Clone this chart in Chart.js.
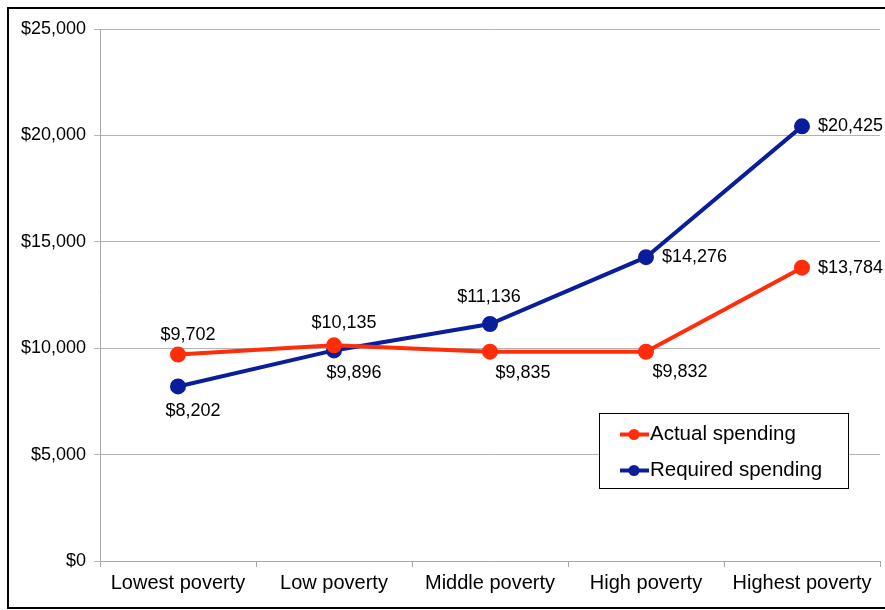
<!DOCTYPE html>
<html>
<head>
<meta charset="utf-8">
<script src="https://cdn.jsdelivr.net/npm/chart.js@4/dist/chart.umd.min.js"></script>
<style>
  html, body { margin: 0; padding: 0; background: #fff; }
  #wrap { width: 885px; height: 610px; }
</style>
</head>
<body>
<div id="wrap"><canvas id="chart" width="885" height="610"></canvas></div>
<script>
const categories = ['Lowest poverty', 'Low poverty', 'Middle poverty', 'High poverty', 'Highest poverty'];
const actualSpending = [9702, 10135, 9835, 9832, 13784];
const requiredSpending = [8202, 9896, 11136, 14276, 20425];
const yTicks = [0, 5000, 10000, 15000, 20000, 25000];

const RED = '#ff2d0a';
const BLUE = '#0a1e9c';
const FONT = '"Liberation Sans", Arial, sans-serif';

// where each value label sits relative to its point (dx, dy, align)
const actualLabelPos = [[10, -20, 'center'], [10, -22, 'center'], [33, 21, 'center'], [34, 20, 'center'], [16, 0, 'left']];
const requiredLabelPos = [[15, 25, 'center'], [20, 23, 'center'], [-1, -27, 'center'], [16, 0, 'left'], [16, 0, 'left']];

const fmt = v => '$' + v.toLocaleString('en-US');

// frame, value labels and legend box
const extras = {
  id: 'extras',
  afterDatasetsDraw(chart) {
    const ctx = chart.ctx;
    ctx.save();
    ctx.font = '18px ' + FONT;
    ctx.fillStyle = '#000';
    ctx.textBaseline = 'middle';
    const pos = [actualLabelPos, requiredLabelPos];
    chart.data.datasets.forEach((ds, i) => {
      chart.getDatasetMeta(i).data.forEach((pt, j) => {
        const [dx, dy, align] = pos[i][j];
        ctx.textAlign = align;
        ctx.fillText(fmt(ds.data[j]), pt.x + dx, pt.y + dy);
      });
    });

    // legend
    const bx = 599.5, by = 413.5, bw = 249, bh = 75;
    ctx.fillStyle = '#fff';
    ctx.fillRect(bx, by, bw, bh);
    ctx.strokeStyle = '#000';
    ctx.lineWidth = 1;
    ctx.strokeRect(bx, by, bw, bh);
    chart.data.datasets.forEach((ds, i) => {
      const y = by + 21 + i * 36;
      ctx.strokeStyle = ds.borderColor;
      ctx.lineWidth = 4;
      ctx.beginPath();
      ctx.moveTo(620, y);
      ctx.lineTo(649, y);
      ctx.stroke();
      ctx.fillStyle = ds.borderColor;
      ctx.beginPath();
      ctx.arc(634, y, 5.5, 0, Math.PI * 2);
      ctx.fill();
      ctx.fillStyle = '#000';
      ctx.textAlign = 'left';
      ctx.font = '20.5px ' + FONT;
      ctx.fillText(ds.label, 650, y);
    });

    // outer frame
    ctx.strokeStyle = '#000';
    ctx.lineWidth = 2;
    ctx.strokeRect(8, 8, 900, 600);
    ctx.restore();
  }
};

new Chart(document.getElementById('chart'), {
  type: 'line',
  data: {
    labels: categories,
    datasets: [
      {
        label: 'Actual spending',
        data: actualSpending,
        borderColor: RED,
        backgroundColor: RED,
        borderWidth: 4,
        pointRadius: 6,
        pointHoverRadius: 6,
        tension: 0
      },
      {
        label: 'Required spending',
        data: requiredSpending,
        borderColor: BLUE,
        backgroundColor: BLUE,
        borderWidth: 4,
        pointRadius: 6,
        pointHoverRadius: 6,
        tension: 0
      }
    ]
  },
  options: {
    responsive: false,
    animation: false,
    layout: { autoPadding: false, padding: { top: 29, right: 5, left: 0, bottom: 0 } },
    plugins: {
      legend: { display: false },
      tooltip: { enabled: false }
    },
    scales: {
      x: {
        offset: true,
        grid: { offset: true, drawOnChartArea: false, color: '#a8a8a8', tickLength: 6 },
        border: { color: '#a8a8a8' },
        ticks: { color: '#000', font: { family: FONT, size: 20 }, padding: 4, maxRotation: 0 },
        afterFit: s => { s.height = 49; s.paddingLeft = 0; s.paddingRight = 0; }
      },
      y: {
        min: 0,
        max: 25000,
        afterBuildTicks: s => { s.ticks = yTicks.map(v => ({ value: v })); },
        grid: { color: '#b4b4b4', tickLength: 6 },
        border: { color: '#a8a8a8' },
        ticks: { color: '#000', font: { family: FONT, size: 18 }, padding: 8, callback: v => fmt(v) },
        afterFit: s => { s.width = 100; s.paddingTop = 0; s.paddingBottom = 0; }
      }
    }
  },
  plugins: [extras]
});
</script>
</body>
</html>
